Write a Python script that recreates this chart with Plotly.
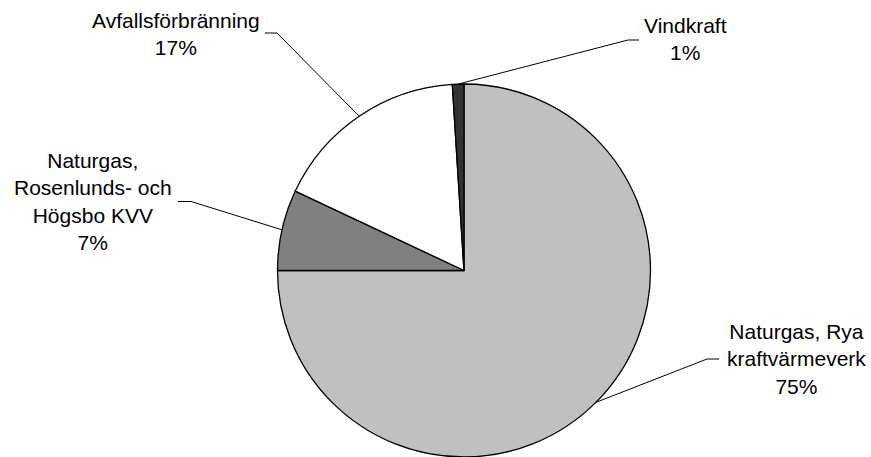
import math
import plotly.graph_objects as go

# ---- data ----
categories = ["Naturgas, Rya kraftvärmeverk",
              "Naturgas, Rosenlunds- och Högsbo KVV",
              "Avfallsförbränning",
              "Vindkraft"]
label_lines = [["Naturgas, Rya", "kraftvärmeverk"],
               ["Naturgas,", "Rosenlunds- och", "Högsbo KVV"],
               ["Avfallsförbränning"],
               ["Vindkraft"]]
values = [75, 7, 17, 1]
colors = ["#C0C0C0", "#808080", "#FFFFFF", "#333333"]

# ---- layout (pixels) ----
W, H = 871, 457
CX, CY, R = 464.0, 270.5, 186.5
# label centre, elbow point, leader end point (pixels)
label_pos = [(796, 359), (93, 201.5), (176, 34), (685, 39)]
elbow_pos = [(707, 359), (191, 201.5), (277, 33), (628, 40)]
end_pos = [(719, 359), (178, 201.5), (265, 33), (639, 40)]


def to_paper(x, y):
    return x / W, 1 - y / H


fig = go.Figure()
fig.add_trace(go.Pie(
    labels=categories,
    values=values,
    sort=False,
    direction="clockwise",
    rotation=0,
    textinfo="none",
    marker=dict(colors=colors, line=dict(color="#000000", width=1.3)),
    domain=dict(x=[(CX - R) / W, (CX + R) / W],
                y=[1 - (CY + R) / H, 1 - (CY - R) / H]),
    showlegend=False,
    hoverinfo="label+percent",
))

total = sum(values)
cum = 0.0
annotations = []
shapes = []
for i, v in enumerate(values):
    mid = (cum + v / 2) / total
    cum += v
    ang = 2 * math.pi * mid  # clockwise from 12 o'clock
    ex = CX + R * math.sin(ang)
    ey = CY - R * math.cos(ang)
    p0 = to_paper(ex, ey)
    p1 = to_paper(*elbow_pos[i])
    p2 = to_paper(*end_pos[i])
    shapes.append(dict(type="path", xref="paper", yref="paper",
                       path=f"M {p0[0]} {p0[1]} L {p1[0]} {p1[1]} L {p2[0]} {p2[1]}",
                       line=dict(color="#000000", width=1)))
    pct = f"{round(100 * v / total)}%"
    lx, ly = to_paper(*label_pos[i])
    annotations.append(dict(
        x=lx, y=ly, xref="paper", yref="paper",
        xanchor="center", yanchor="middle", align="center",
        showarrow=False,
        text="<br>".join(label_lines[i] + [pct]),
        font=dict(family="Liberation Sans, Arial, sans-serif", size=21, color="#000000"),
    ))

fig.update_layout(
    width=W, height=H,
    margin=dict(l=0, r=0, t=0, b=0),
    paper_bgcolor="#FFFFFF",
    plot_bgcolor="#FFFFFF",
    annotations=annotations,
    shapes=shapes,
)

fig.write_html("out.html")
